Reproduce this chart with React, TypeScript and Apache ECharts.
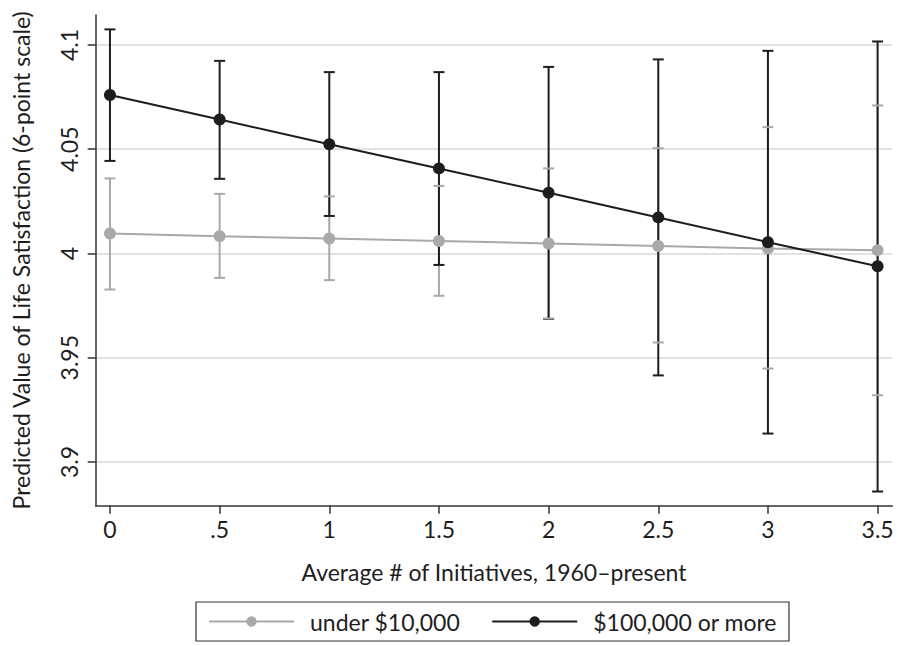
import React, { useEffect, useRef } from "react";
import * as echarts from "echarts";

const xValues = [0, 0.5, 1, 1.5, 2, 2.5, 3, 3.5];
const xTickLabels = ["0", ".5", "1", "1.5", "2", "2.5", "3", "3.5"];
const yTicks = [3.9, 3.95, 4, 4.05, 4.1];
const yTickLabels = ["3.9", "3.95", "4", "4.05", "4.1"];

const lowIncomeName = "under $10,000";
const lowIncome = [4.0096, 4.0083, 4.0072, 4.006, 4.0048, 4.0036, 4.0024, 4.0016];
const lowIncomeUpper = [4.036, 4.0286, 4.0274, 4.0324, 4.0408, 4.0505, 4.0606, 4.071];
const lowIncomeLower = [3.9827, 3.9883, 3.9872, 3.9797, 3.9688, 3.9573, 3.9448, 3.932];

const highIncomeName = "$100,000 or more";
const highIncome = [4.076, 4.0643, 4.0524, 4.0408, 4.0291, 4.0173, 4.0054, 3.9939];
const highIncomeUpper = [4.1075, 4.0924, 4.087, 4.087, 4.0895, 4.0931, 4.0972, 4.1017];
const highIncomeLower = [4.0444, 4.0358, 4.018, 3.9945, 3.9686, 3.9415, 3.9136, 3.8858];

const xTitle = "Average # of Initiatives, 1960\u2013present";
const yTitle = "Predicted Value of Life Satisfaction (6-point scale)";

const BLACK = "#1f1c1d";
const GRAY = "#a9a9ac";
const TEXT = "#1e1e1e";
const FONT = "Lato";
const FS = 23;

function findLabel(values: number[], labels: string[], v: number) {
  const i = values.findIndex((t) => Math.abs(t - v) < 1e-9);
  return i >= 0 ? labels[i] : "";
}

function errorSeries(
  name: string,
  lower: number[],
  upper: number[],
  color: string,
  drawStem: boolean,
  drawCaps: boolean,
  z: number
) {
  return {
    type: "custom",
    name: name + " CI",
    z,
    data: xValues.map((x, i) => [x, lower[i], upper[i]]),
    encode: { x: 0, y: [1, 2] },
    renderItem: (params: any, api: any) => {
      const x = api.value(0);
      const pLo = api.coord([x, api.value(1)]);
      const pHi = api.coord([x, api.value(2)]);
      const w = 5.5;
      const style = { stroke: color, lineWidth: 2, fill: "none" };
      const children: any[] = [];
      if (drawStem)
        children.push({ type: "line", shape: { x1: pHi[0], y1: pHi[1], x2: pLo[0], y2: pLo[1] }, style });
      if (drawCaps) {
        children.push({ type: "line", shape: { x1: pHi[0] - w, y1: pHi[1], x2: pHi[0] + w, y2: pHi[1] }, style });
        children.push({ type: "line", shape: { x1: pLo[0] - w, y1: pLo[1], x2: pLo[0] + w, y2: pLo[1] }, style });
      }
      return { type: "group", children };
    },
  };
}

export default function App() {
  const ref = useRef<HTMLDivElement>(null);
  useEffect(() => {
    document.body.style.margin = "0";
    const chart = echarts.init(ref.current!, null, { renderer: "svg" });
    chart.setOption({
      animation: false,
      backgroundColor: "#ffffff",
      textStyle: { fontFamily: FONT },
      grid: { left: 95.7, top: 15, right: 5.7, bottom: 140.3, containLabel: false },
      xAxis: {
        type: "value",
        min: -0.065,
        max: 3.567,
        name: xTitle,
        nameLocation: "middle",
        nameGap: 55,
        nameTextStyle: { fontFamily: FONT, fontSize: FS, color: TEXT },
        axisLine: { show: true, onZero: false, lineStyle: { color: "#333", width: 1.5 } },
        axisTick: { show: true, length: 8, lineStyle: { color: "#333", width: 1.5 }, customValues: xValues },
        axisLabel: {
          customValues: xValues,
          fontFamily: FONT,
          fontSize: FS,
          color: TEXT,
          margin: 12,
          formatter: (v: number) => findLabel(xValues, xTickLabels, v),
        },
        splitLine: { show: false },
      },
      yAxis: {
        type: "value",
        min: 3.879,
        max: 4.1144,
        name: yTitle,
        nameLocation: "middle",
        nameGap: 63,
        nameTextStyle: { fontFamily: FONT, fontSize: FS, color: TEXT },
        axisLine: { show: true, onZero: false, lineStyle: { color: "#333", width: 1.5 } },
        axisTick: { show: true, length: 8, lineStyle: { color: "#333", width: 1.5 }, customValues: yTicks },
        axisLabel: {
          customValues: yTicks,
          rotate: 90,
          fontFamily: FONT,
          fontSize: FS,
          color: TEXT,
          margin: 15,
          formatter: (v: number) => findLabel(yTicks, yTickLabels, v),
        },
        splitLine: { show: true, lineStyle: { color: "#e2e2e2", width: 2 } },
      },
      legend: {
        data: [lowIncomeName, highIncomeName],
        left: 196,
        top: 602,
        orient: "horizontal",
        padding: [8, 12, 8, 12],
        borderColor: "#333",
        borderWidth: 1.2,
        borderRadius: 0,
        itemGap: 31,
        itemWidth: 85,
        itemHeight: 13,
        textStyle: { fontFamily: FONT, fontSize: FS, color: TEXT, padding: [0, 0, 0, 11] },
      },
      series: [
        errorSeries(lowIncomeName, lowIncomeLower, lowIncomeUpper, GRAY, true, false, 1),
        errorSeries(highIncomeName, highIncomeLower, highIncomeUpper, BLACK, true, true, 2),
        errorSeries(lowIncomeName, lowIncomeLower, lowIncomeUpper, GRAY, false, true, 2),
        {
          type: "line",
          name: lowIncomeName,
          z: 3,
          data: xValues.map((x, i) => [x, lowIncome[i]]),
          symbol: "circle",
          symbolSize: 12,
          lineStyle: { color: GRAY, width: 2 },
          itemStyle: { color: GRAY },
        },
        {
          type: "line",
          name: highIncomeName,
          z: 4,
          data: xValues.map((x, i) => [x, highIncome[i]]),
          symbol: "circle",
          symbolSize: 12,
          lineStyle: { color: BLACK, width: 2 },
          itemStyle: { color: BLACK },
        },
      ],
    });
    return () => chart.dispose();
  }, []);
  return <div ref={ref} style={{ width: 898, height: 646 }} />;
}
